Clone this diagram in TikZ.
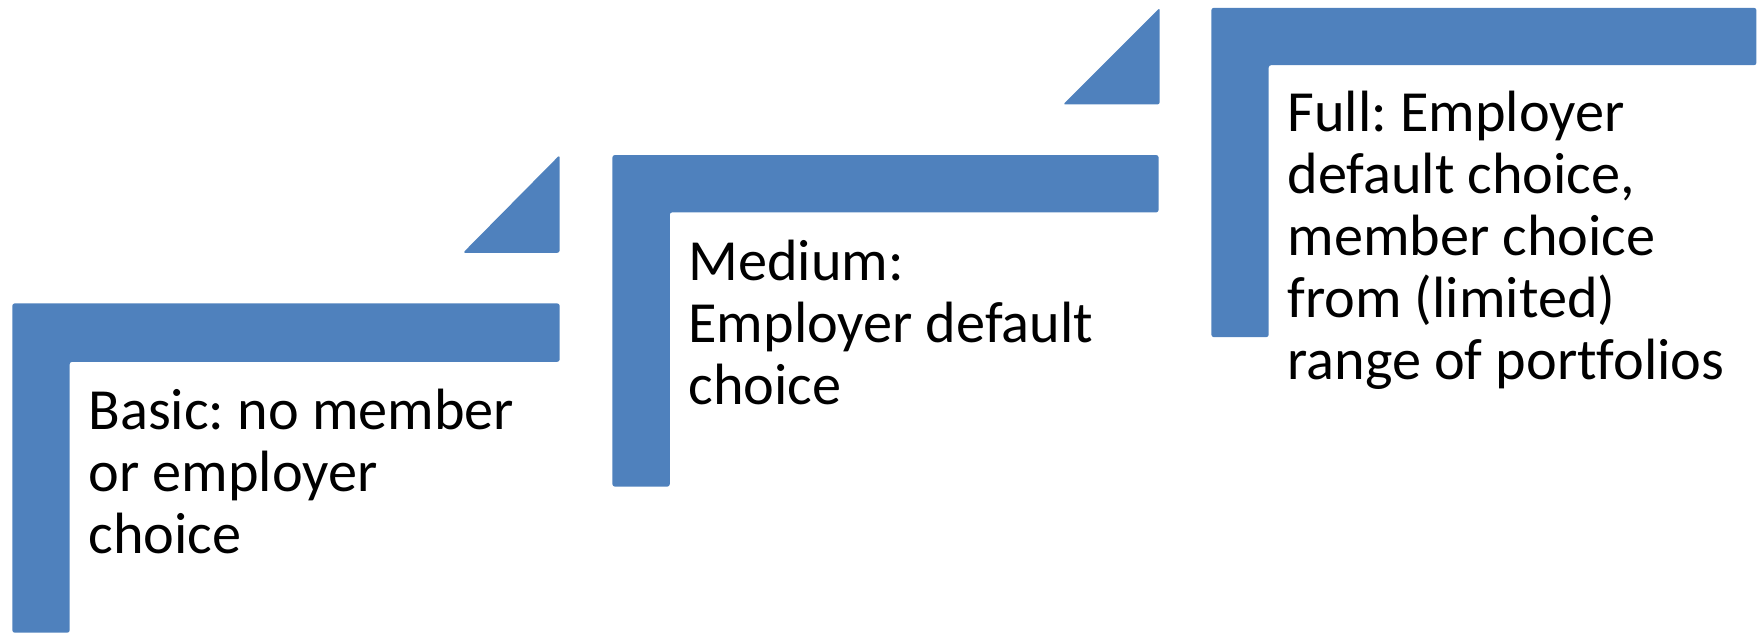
\documentclass[tikz,border=0pt]{standalone}
\usepackage{fontspec}
\setmainfont{Carlito}[Ligatures=NoCommon]
\usepackage{tikz}
\frenchspacing
\definecolor{stepblue}{HTML}{4F81BD}
\tikzset{
  stepbar/.style={fill=stepblue, rounded corners=0.6pt},
  steptext/.style={anchor=base west, align=left, inner sep=0pt,
    font=\fontsize{14.75}{15.7}\selectfont}
}

\begin{document}
\begin{tikzpicture}
\useasboundingbox (0,0) rectangle (15.68,5.63);
% step shapes
	\fill[stepbar] (0.11,0) -- (0.11,2.93) -- (4.98,2.93) -- (4.98,2.41) -- (0.62,2.41) -- (0.62,0) -- cycle;
	\fill[stepbar] (4.12,3.38) -- (4.98,3.38) -- (4.98,4.25) -- cycle;
	\fill[stepbar] (5.45,1.30) -- (5.45,4.25) -- (10.31,4.25) -- (10.31,3.74) -- (5.96,3.74) -- (5.96,1.30) -- cycle;
	\fill[stepbar] (9.46,4.70) -- (10.32,4.70) -- (10.32,5.56) -- cycle;
	\fill[stepbar] (10.78,2.63) -- (10.78,5.56) -- (15.63,5.56) -- (15.63,5.05) -- (11.29,5.05) -- (11.29,2.63) -- cycle;
% labels (anchored at the last line)
	\node[steptext] (basic) at (0.78,0.70) {Basic: no member\\or employer\\choice};
	\node[steptext] (medium) at (6.12,2.03) {Medium:\\Employer default\\choice};
	\node[steptext] (full) at (11.45,2.25) {Full: Employer\\default choice,\\member choice\\from (limited)\\range of portfolios};
\end{tikzpicture}
\end{document}
